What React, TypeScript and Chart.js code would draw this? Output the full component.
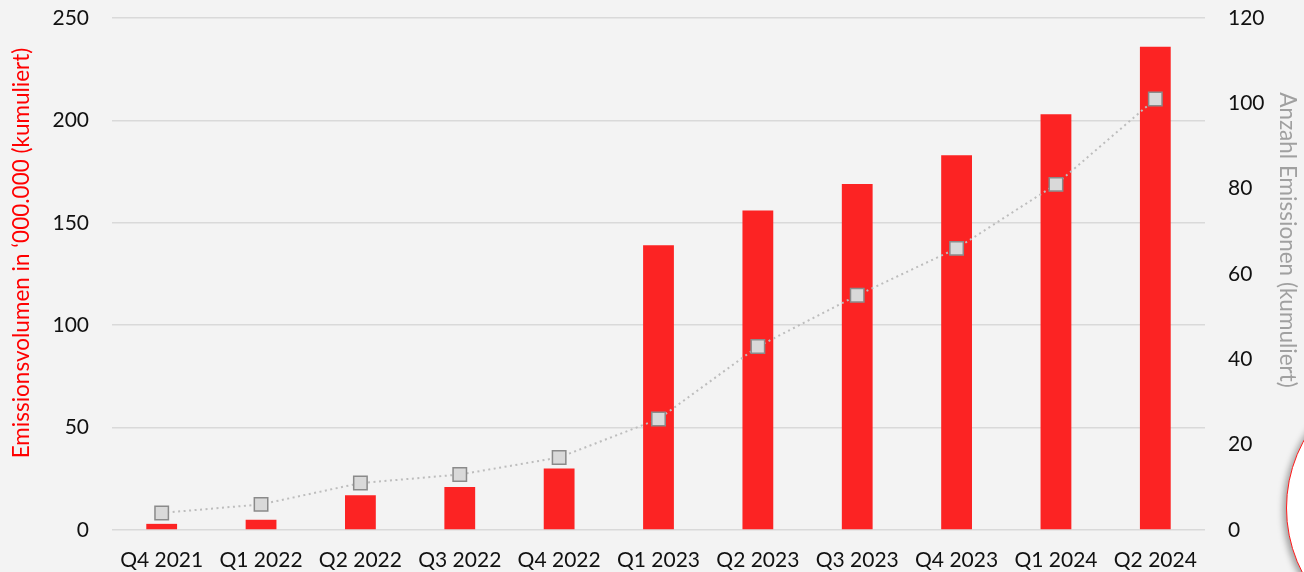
import React, { useEffect, useRef } from "react";
import { Chart, registerables } from "chart.js";

Chart.register(...registerables);

const categories = ["Q4 2021", "Q1 2022", "Q2 2022", "Q3 2022", "Q4 2022", "Q1 2023", "Q2 2023", "Q3 2023", "Q4 2023", "Q1 2024", "Q2 2024"];
const volumeValues = [3, 5, 17, 21, 30, 139, 156, 169, 183, 203, 236];
const countValues = [4, 6, 11, 13, 17, 26, 43, 55, 66, 81, 101];
const leftTicks = [0, 50, 100, 150, 200, 250];
const rightTicks = [0, 20, 40, 60, 80, 100, 120];
const leftTitle = "Emissionsvolumen in ‘000.000 (kumuliert)";
const rightTitle = "Anzahl Emissionen (kumuliert)";

const FONT = "Lato, 'Open Sans', sans-serif";

const axisTitles = {
  id: "axisTitles",
  afterDraw(chart: any) {
    const ctx = chart.ctx;
    ctx.save();
    ctx.font = `22.5px ${FONT}`;
    ctx.textAlign = "center";
    ctx.textBaseline = "middle";
    ctx.fillStyle = "#ff0000";
    ctx.translate(22, 253);
    ctx.rotate(-Math.PI / 2);
    ctx.fillText(leftTitle, 0, 0);
    ctx.restore();
    ctx.save();
    ctx.font = `22.5px ${FONT}`;
    ctx.textAlign = "center";
    ctx.textBaseline = "middle";
    ctx.fillStyle = "#a0a0a0";
    ctx.translate(1287, 240);
    ctx.rotate(Math.PI / 2);
    ctx.fillText(rightTitle, 0, 0);
    ctx.restore();
  },
};

export default function App() {
  const ref = useRef<HTMLCanvasElement | null>(null);

  useEffect(() => {
    document.body.style.margin = "0";
    const canvas = ref.current!;
    const chart = new Chart(canvas, {
      type: "bar",
      data: {
        labels: categories,
        datasets: [
          {
            type: "line",
            label: "Anzahl Emissionen",
            data: countValues,
            yAxisID: "y1",
            borderColor: "#bdbdbd",
            borderWidth: 2,
            borderDash: [2, 3.5],
            pointStyle: "rect",
            pointRadius: 9.5,
            pointBackgroundColor: "#d9d9d9",
            pointBorderColor: "#8a8a8a",
            pointBorderWidth: 1.5,
            tension: 0,
            order: 0,
          },
          {
            type: "bar",
            label: "Emissionsvolumen",
            data: volumeValues,
            yAxisID: "y",
            backgroundColor: "#fc2323",
            barPercentage: 0.62,
            categoryPercentage: 0.5,
            order: 1,
          },
        ],
      },
      options: {
        animation: false,
        responsive: false,
        maintainAspectRatio: false,
        layout: { padding: { top: 18, right: 0, left: 0, bottom: 0 } },
        plugins: { legend: { display: false }, tooltip: { enabled: false } },
        scales: {
          x: {
            grid: { display: false },
            border: { display: false },
            ticks: { color: "#111", font: { family: FONT, size: 21 }, maxRotation: 0, padding: 10 },
            afterFit: (s: any) => { s.height = 42; s.paddingLeft = 0; s.paddingRight = 0; },
          },
          y: {
            position: "left",
            min: 0,
            max: 250,
            afterBuildTicks: (s: any) => { s.ticks = leftTicks.map((v) => ({ value: v })); },
            afterFit: (s: any) => { s.width = 112; s.paddingTop = 0; s.paddingBottom = 0; },
            grid: { color: "#d9d9d9", lineWidth: 1.5, drawTicks: false },
            border: { display: false },
            ticks: { color: "#111", font: { family: FONT, size: 21 }, padding: 23 },
            title: { display: false, text: leftTitle },
          },
          y1: {
            position: "right",
            min: 0,
            max: 120,
            afterBuildTicks: (s: any) => { s.ticks = rightTicks.map((v) => ({ value: v })); },
            afterFit: (s: any) => { s.width = 99; s.paddingTop = 0; s.paddingBottom = 0; },
            grid: { display: false, drawTicks: false },
            border: { display: false },
            ticks: { color: "#111", font: { family: FONT, size: 21 }, padding: 23 },
            title: { display: false, text: rightTitle },
          },
        },
      },
      plugins: [axisTitles],
    });
    return () => chart.destroy();
  }, []);

  return (
    <div style={{ position: "relative", width: 1304, height: 572, background: "#f3f3f3", overflow: "hidden" }}>
      <canvas ref={ref} width={1304} height={572} style={{ position: "absolute", left: 0, top: 0 }} />
      <div
        style={{
          position: "absolute",
          left: 1286,
          top: 368,
          width: 280,
          height: 280,
          borderRadius: "50%",
          background: "#fff",
          border: "1.5px solid #ff1a1a",
          boxSizing: "border-box",
          boxShadow: "-3px 2px 6px rgba(0,0,0,0.35)",
        }}
      />
    </div>
  );
}
